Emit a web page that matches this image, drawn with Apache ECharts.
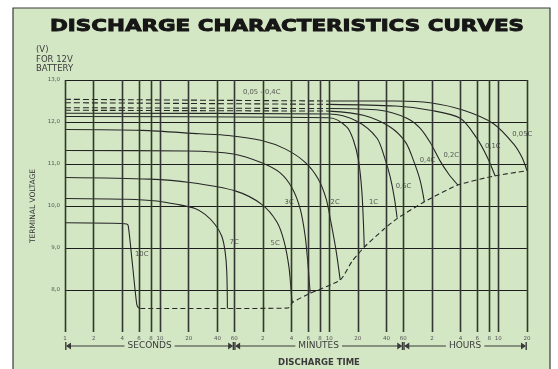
<!DOCTYPE html>
<html><head><meta charset="utf-8">
<script src="https://cdn.jsdelivr.net/npm/echarts@6/dist/echarts.min.js"></script>
<style>html,body{margin:0;padding:0;background:#fff}#c{width:558px;height:369px}</style>
</head><body><div id="c"></div>
<script>
// ---- data (time in seconds, voltage in V) ----
const xTickSeconds = [1,2,4,6,8,10,20,40,60,120,240,360,480,600,1200,2400,3600,7200,14400,21600,28800,36000,72000];
const xTickLabels  = ['1','2','4','6','8','10','20','40','60','2','4','6','8','10','20','40','60','2','4','6','8','10','20'];
const timeSegments = [[1,60,'SECONDS'],[60,3600,'MINUTES'],[3600,72000,'HOURS']];
const dashedUntil = 600;

const c005 = [[1,12.54],[600,12.50],[3000,12.50],[6900,12.46],[15500,12.28],[32000,11.96],[52000,11.48],[63700,11.16],[72000,10.84]];
const c01  = [[1,12.46],[600,12.42],[3000,12.38],[6900,12.28],[14300,12.09],[21400,11.61],[27300,11.18],[33400,10.71]];
const c02  = [[1,12.34],[600,12.32],[2060,12.28],[3930,12.09],[5430,11.85],[6920,11.51],[8740,11.08],[10900,10.75],[13500,10.50]];
const c04  = [[1,12.28],[600,12.26],[1370,12.16],[2620,11.88],[3800,11.52],[4620,11.08],[5430,10.60],[6000,10.10]];
const c06  = [[1,12.21],[600,12.19],[1170,12.02],[1900,11.62],[2300,11.14],[2620,10.70],[2900,10.20],[3100,9.72]];
const c1   = [[1,12.13],[600,12.10],[920,11.88],[1080,11.56],[1220,11.08],[1320,10.36],[1375,9.56],[1400,9.02]];
const c2   = [[1,11.82],[6.4,11.80],[26,11.72],[52,11.68],[117,11.56],[206,11.36],[335,11.04],[458,10.65],[557,10.17],[628,9.59],[710,8.92],[782,8.24]];
const c3   = [[1,11.32],[19,11.31],[59,11.24],[117,11.03],[183,10.79],[244,10.43],[297,9.93],[335,9.28],[360,8.56],[378,7.92]];
const c5   = [[1,10.68],[7.8,10.64],[20.6,10.56],[61.5,10.36],[117,10.04],[169,9.62],[201,9.16],[227,8.52],[243,7.76],[248,7.71]];
const c7   = [[1,10.18],[4.5,10.16],[9.2,10.12],[15,10.04],[23.3,9.94],[29.7,9.80],[37.8,9.56],[44.5,9.28],[48.2,8.92],[50.2,8.44],[51,7.56]];
const c10  = [[1,9.60],[3,9.59],[4.46,9.57],[4.63,9.52],[5.13,8.59],[5.68,7.66],[5.9,7.58],[6.2,7.56]];
const cutoff = [[6.2,7.56],[51,7.56],[222,7.57],[248,7.71],[378,7.92],[782,8.24],[1040,8.68],[1400,9.02],[2230,9.44],[3100,9.70],[6000,10.10],[13500,10.50],[33400,10.72],[72000,10.84]];
const curveLabels = [[117,12.71,'0,05 - 0,4C'],[64200,11.72,'0,05C'],[31400,11.42,'0,1C'],[11500,11.22,'0,2C'],[6470,11.08,'0,4C'],[3620,10.48,'0,6C'],[1750,10.08,'1C'],[692,10.08,'2C'],[227,10.08,'3C'],[162,9.12,'5C'],[60,9.14,'7C'],[6.41,8.84,'10C']];

// ---- chart ----
const ink = '#262626';
function curve(data, dashed){
  return {type:'line', data, symbol:'none', showSymbol:false, smooth:0.3, silent:true, z:3,
    lineStyle:{color:ink, width:1.1, type: dashed ? [6,3] : 'solid'}, emphasis:{disabled:true}};
}
const series = [];
[c005,c01,c02,c04].forEach(d=>{
  series.push(curve(d.filter(p=>p[0]<=dashedUntil), true));
  series.push(curve(d.filter(p=>p[0]>=dashedUntil), false));
});
[c06,c1,c2,c3,c5,c7,c10].forEach(d=>series.push(curve(d,false)));
const cut = curve(cutoff, true); cut.smooth = 0.2; cut.lineStyle.type=[5,3];
series.push(cut);
series.push({type:'line', data:[], silent:true, z:1, markLine:{silent:true, animation:false, symbol:['none','none'], label:{show:false},
  lineStyle:{color:'rgba(70,85,62,0.45)', width:2.6, type:'solid'}, data: xTickSeconds.map(v=>({xAxis:v}))}});
series.push({type:'line', data:[], silent:true, z:1, markLine:{silent:true, animation:false, symbol:['none','none'], label:{show:false},
  lineStyle:{color:'#2a2a2a', width:0.9, type:'solid'}, data: xTickSeconds.map(v=>({xAxis:v}))}});
series.push({type:'scatter', data: curveLabels.map(l=>({value:[l[0],l[1]], name:l[2]})), symbolSize:1, itemStyle:{color:'transparent'},
  silent:true, z:5, label:{show:true, position:'inside', formatter:p=>p.name, fontSize:6.8, color:'#333', fontFamily:'DejaVu Sans'}});

function fmtX(v){
  for(let i=0;i<xTickSeconds.length;i++){ if(Math.abs(Math.log(v)-Math.log(xTickSeconds[i]))<1e-6) return xTickLabels[i]; }
  return '';
}
const chart = echarts.init(document.getElementById('c'));
chart.setOption({
  backgroundColor:'#ffffff', animation:false,
  grid:{left:65, right:31, top:80, bottom:37},
  xAxis:{type:'log', logBase:10, min:1, max:72000, axisLine:{show:false}, axisTick:{show:false}, splitLine:{show:false}, minorTick:{show:false}, minorSplitLine:{show:false},
    axisLabel:{customValues:xTickSeconds, formatter:fmtX, fontSize:5.5, color:'#555', margin:4, fontFamily:'DejaVu Sans', hideOverlap:false}},
  yAxis:{type:'value', min:7, max:13, interval:1, axisLine:{show:false}, axisTick:{show:false},
    splitLine:{show:true, showMinLine:false, lineStyle:{color:'#1c1c1c', width:1.2}},
    axisLabel:{showMinLabel:false, formatter:v=>v.toFixed(1).replace('.',','), fontSize:5.5, color:'#555', margin:5, fontFamily:'DejaVu Sans'},
    name:'TERMINAL VOLTAGE', nameLocation:'middle', nameRotate:90, nameGap:27, nameTextStyle:{fontSize:7.5, color:'#333', fontFamily:'DejaVu Sans'}},
  series
});

// ---- decorations ----
const ctx = document.createElement('canvas').getContext('2d');
function tw(t,f){ctx.font=f; return ctx.measureText(t).width;}
const els = [];
els.push({type:'rect', z:-100, silent:true, shape:{x:13, y:8, width:537, height:380}, style:{fill:'#d4e7c5', stroke:'#3a3a3a', lineWidth:1.2}});
const title = 'DISCHARGE CHARACTERISTICS CURVES';
const tf = 'bold 16.5px "DejaVu Sans"';
els.push({type:'text', x:287, y:27, scaleX:474/tw(title,tf), style:{text:title, x:0, y:0, font:tf, fill:'#161616', stroke:'#161616', lineWidth:0.9, textAlign:'center', textVerticalAlign:'middle', align:'center', verticalAlign:'middle'}});
['(V)','FOR 12V','BATTERY'].forEach((t,i)=>{
  els.push({type:'text', x:36, y:50+i*9.4, style:{text:t, x:0, y:0, font:'8.5px "DejaVu Sans"', fill:'#3a3a3a', textAlign:'left', textVerticalAlign:'middle', align:'left', verticalAlign:'middle'}});
});
const px = v => chart.convertToPixel({xAxisIndex:0}, v);
const yA = 346, sf = '9px "DejaVu Sans"', col = '#3a3a3a';
timeSegments.forEach(([a,b,t])=>{
  const xa = px(a), xb = px(b), xc = px(Math.sqrt(a*b)), w = tw(t,sf);
  els.push({type:'text', x:xc, y:yA, style:{text:t, x:0, y:0, font:sf, fill:col, textAlign:'center', textVerticalAlign:'middle', align:'center', verticalAlign:'middle'}});
  els.push({type:'line', shape:{x1:xa+2, y1:yA, x2:xc-w/2-3, y2:yA}, style:{stroke:col, lineWidth:1}});
  els.push({type:'line', shape:{x1:xc+w/2+3, y1:yA, x2:xb-2, y2:yA}, style:{stroke:col, lineWidth:1}});
  els.push({type:'line', shape:{x1:xa+0.8, y1:yA-4, x2:xa+0.8, y2:yA+4}, style:{stroke:col, lineWidth:1.4}});
  els.push({type:'line', shape:{x1:xb-0.8, y1:yA-4, x2:xb-0.8, y2:yA+4}, style:{stroke:col, lineWidth:1.4}});
  els.push({type:'polygon', shape:{points:[[xa+1,yA],[xa+6,yA-3.5],[xa+6,yA+3.5]]}, style:{fill:col}});
  els.push({type:'polygon', shape:{points:[[xb-1,yA],[xb-6,yA-3.5],[xb-6,yA+3.5]]}, style:{fill:col}});
});
els.push({type:'text', x:319, y:362.5, style:{text:'DISCHARGE TIME', x:0, y:0, font:'bold 8.5px "DejaVu Sans"', fill:col, textAlign:'center', textVerticalAlign:'middle', align:'center', verticalAlign:'middle'}});
chart.setOption({graphic:{elements:els}});
</script></body></html>
